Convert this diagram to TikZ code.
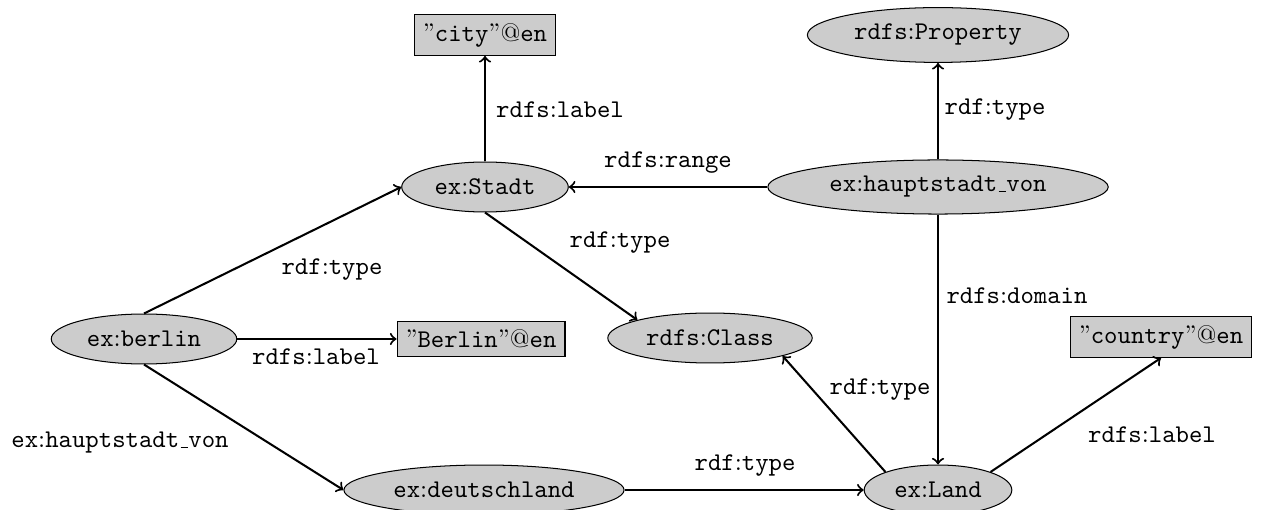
\documentclass[tikz,border=0pt]{standalone}
\usetikzlibrary{shapes.geometric}
\newcommand\mycln{{\rmfamily:}}
\newcommand\myrq{{\rmfamily''}}
\newcommand\myat{{\rmfamily @}}
\newcommand\myus{\leavevmode\kern.06em\vbox{\hrule width.3em}}
\begin{document}
\begin{tikzpicture}[x=0.3922pt,y=-0.3922pt,
  res/.style={ellipse,draw,fill=black!20,font=\ttfamily,minimum height=19.6pt},
  lit/.style={rectangle,draw,fill=black!20,font=\ttfamily},
  lbl/.style={font=\ttfamily},
  conn/.style={->,thick}]
\useasboundingbox (0,0) rectangle (1262,510);
\node[lit] (city) at (485,35) {\myrq city\myrq\myat en};
\node[res,minimum height=21.5pt] (prop) at (938,35) {rdfs\mycln Property};
\node[res] (stadt) at (485,187) {ex\mycln Stadt};
\node[res,minimum width=133.5pt] (hv) at (938,187) {ex\mycln hauptstadt\myus von};
\node[res] (berlin) at (144,339) {ex\mycln berlin};
\node[lit] (berlinlit) at (481,339) {\myrq Berlin\myrq\myat en};
\node[res] (class) at (710,338) {rdfs\mycln Class};
\node[lit] (country) at (1161,337) {\myrq country\myrq\myat en};
\node[res] (de) at (484,490) {ex\mycln deutschland};
\node[res] (land) at (938,490) {ex\mycln Land};

\draw[conn] (stadt.north) -- (city.south);
\draw[conn] (hv.north) -- (prop.south);
\draw[conn] (hv.west) -- (stadt.east);
\draw[conn] (hv.south) -- (land.north);
\draw[conn] (berlin.north) -- (stadt.west);
\draw[conn] (stadt.south) -- (class.north west);
\draw[conn] (berlin.east) -- (berlinlit.west);
\draw[conn] (berlin.south) -- (de.west);
\draw[conn] (de.east) -- (land.west);
\draw[conn] (land.north west) -- (class.south east);
\draw[conn] (land.north east) -- (country.south);

\node[lbl] (l1) at (560,110) {rdfs\mycln label};
\node[lbl] (l2) at (995,110) {rdf\mycln type};
\node[lbl] (l3) at (668,163) {rdfs\mycln range};
\node[lbl] (l4) at (332,270) {rdf\mycln type};
\node[lbl] (l5) at (620,243) {rdf\mycln type};
\node[lbl] (l6) at (1017,296) {rdfs\mycln domain};
\node[lbl] (l7) at (316,357) {rdfs\mycln label};
\node[lbl] (l8) at (120,443) {ex\mycln hauptstadt\myus von};
\node[lbl] (l9) at (880,390) {rdf\mycln type};
\node[lbl] (l10) at (1152,435) {rdfs\mycln label};
\node[lbl] (l11) at (745,466) {rdf\mycln type};
\end{tikzpicture}
\end{document}
